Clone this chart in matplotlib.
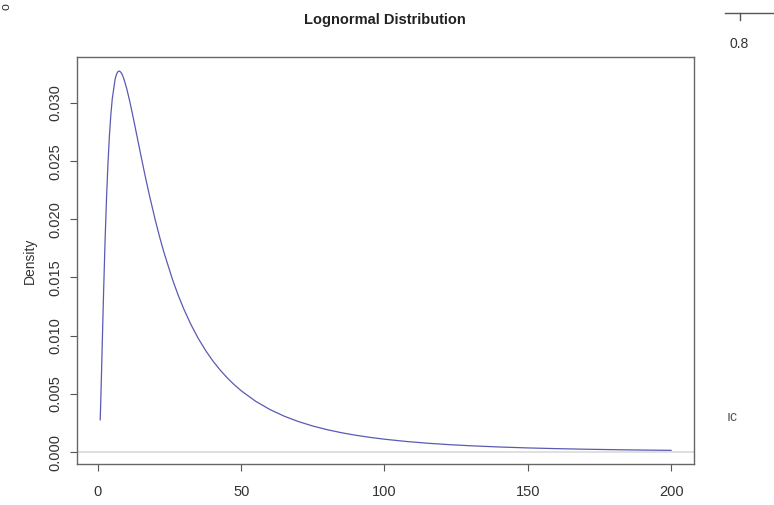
import matplotlib
matplotlib.use('Agg')
import matplotlib.pyplot as plt
from matplotlib.lines import Line2D

# density values
x_vals = [0.8, 1, 1.25, 1.5, 2, 2.5, 3, 3.5, 4, 4.5, 5, 6, 6.5, 7, 7.5, 8, 8.5, 9, 10,
          11, 12, 13, 14, 15, 16, 17, 18, 20, 21.5, 23, 26, 28, 30, 32.5, 35, 37.5,
          40, 42.5, 45, 47.5, 50, 55, 60, 65, 70, 75, 80, 85, 90, 95, 100, 107.5,
          115, 122.5, 130, 140, 150, 160, 170, 185, 200]
density = [0.002767, 0.004432, 0.006754, 0.009185, 0.013941, 0.018204, 0.021813,
           0.024771, 0.027127, 0.028959, 0.030340, 0.032045, 0.032479, 0.032698,
           0.032744, 0.032641, 0.032428, 0.032117, 0.031282, 0.030255, 0.029114,
           0.027916, 0.026700, 0.025487, 0.024297, 0.023143, 0.022031, 0.019947,
           0.018512, 0.017187, 0.014841, 0.013483, 0.012270, 0.010933, 0.009770,
           0.008755, 0.007867, 0.007088, 0.006403, 0.005799, 0.005264, 0.004367,
           0.003654, 0.003080, 0.002614, 0.002233, 0.001919, 0.001658, 0.001440,
           0.001256, 0.001100, 0.000909, 0.000757, 0.000635, 0.000537, 0.000433,
           0.000352, 0.000290, 0.000240, 0.000183, 0.000142]

x_ticks = [0, 50, 100, 150, 200]
y_ticks = [0.000, 0.005, 0.010, 0.015, 0.020, 0.025, 0.030]

txt = '#333333'
fam = ['Liberation Sans', 'DejaVu Sans']

fig = plt.figure(figsize=(7.74, 5.05), dpi=100)
ax = fig.add_axes([77/774, 1 - 464/505, (694 - 77)/774, (464 - 57)/505])

ax.axhline(0, color='#dadada', lw=1.2, zorder=1)
ax.plot(x_vals, density, color='#5a5ab4', lw=0.9, zorder=2)

ax.set_xlim(-7.3, 208)
ax.set_ylim(-0.00103, 0.03395)
ax.set_xticks(x_ticks)
ax.set_xticklabels([str(t) for t in x_ticks], family=fam, fontsize=10.5, color=txt)
ax.set_yticks(y_ticks)
ax.set_yticklabels([f'{t:.3f}' for t in y_ticks], family=fam, fontsize=10.5,
                   color=txt, rotation=90, va='center')
ax.tick_params(length=5, width=0.8, color='#555555')
ax.tick_params(axis='x', pad=10)
ax.tick_params(axis='y', pad=5.5)
for s in ax.spines.values():
    s.set_color('#666666')
    s.set_linewidth(1.0)

fig.text(30 / 774, 1 - 261 / 505, 'Density', ha='center', va='center', rotation=90,
         family=fam, fontsize=10, color=txt)
fig.text(385 / 774, 1 - 20 / 505, 'Lognormal Distribution', ha='center', va='center',
         family=fam, fontweight='bold', fontsize=10.5, color='#222222')

# fragments around the edges
fig.text(739 / 774, 1 - 44 / 505, '0.8', ha='center', va='center', family=fam,
         fontsize=10, color=txt)
fig.add_artist(Line2D([725 / 774, 1.0], [1 - 13 / 505] * 2, color='#555555', lw=1.0,
                      transform=fig.transFigure))
fig.add_artist(Line2D([740 / 774] * 2, [1 - 13 / 505, 1 - 20 / 505], color='#555555',
                      lw=1.0, transform=fig.transFigure))
fig.text(732 / 774, 1 - 417 / 505, 'ıc', ha='center', va='center', family=fam,
         fontsize=10, color='#555555')
fig.text(6 / 774, 1 - 7 / 505, 'o', ha='center', va='center', family=fam,
         fontsize=9, color=txt, rotation=90)

fig.savefig('out.png', dpi=100, facecolor='white')
